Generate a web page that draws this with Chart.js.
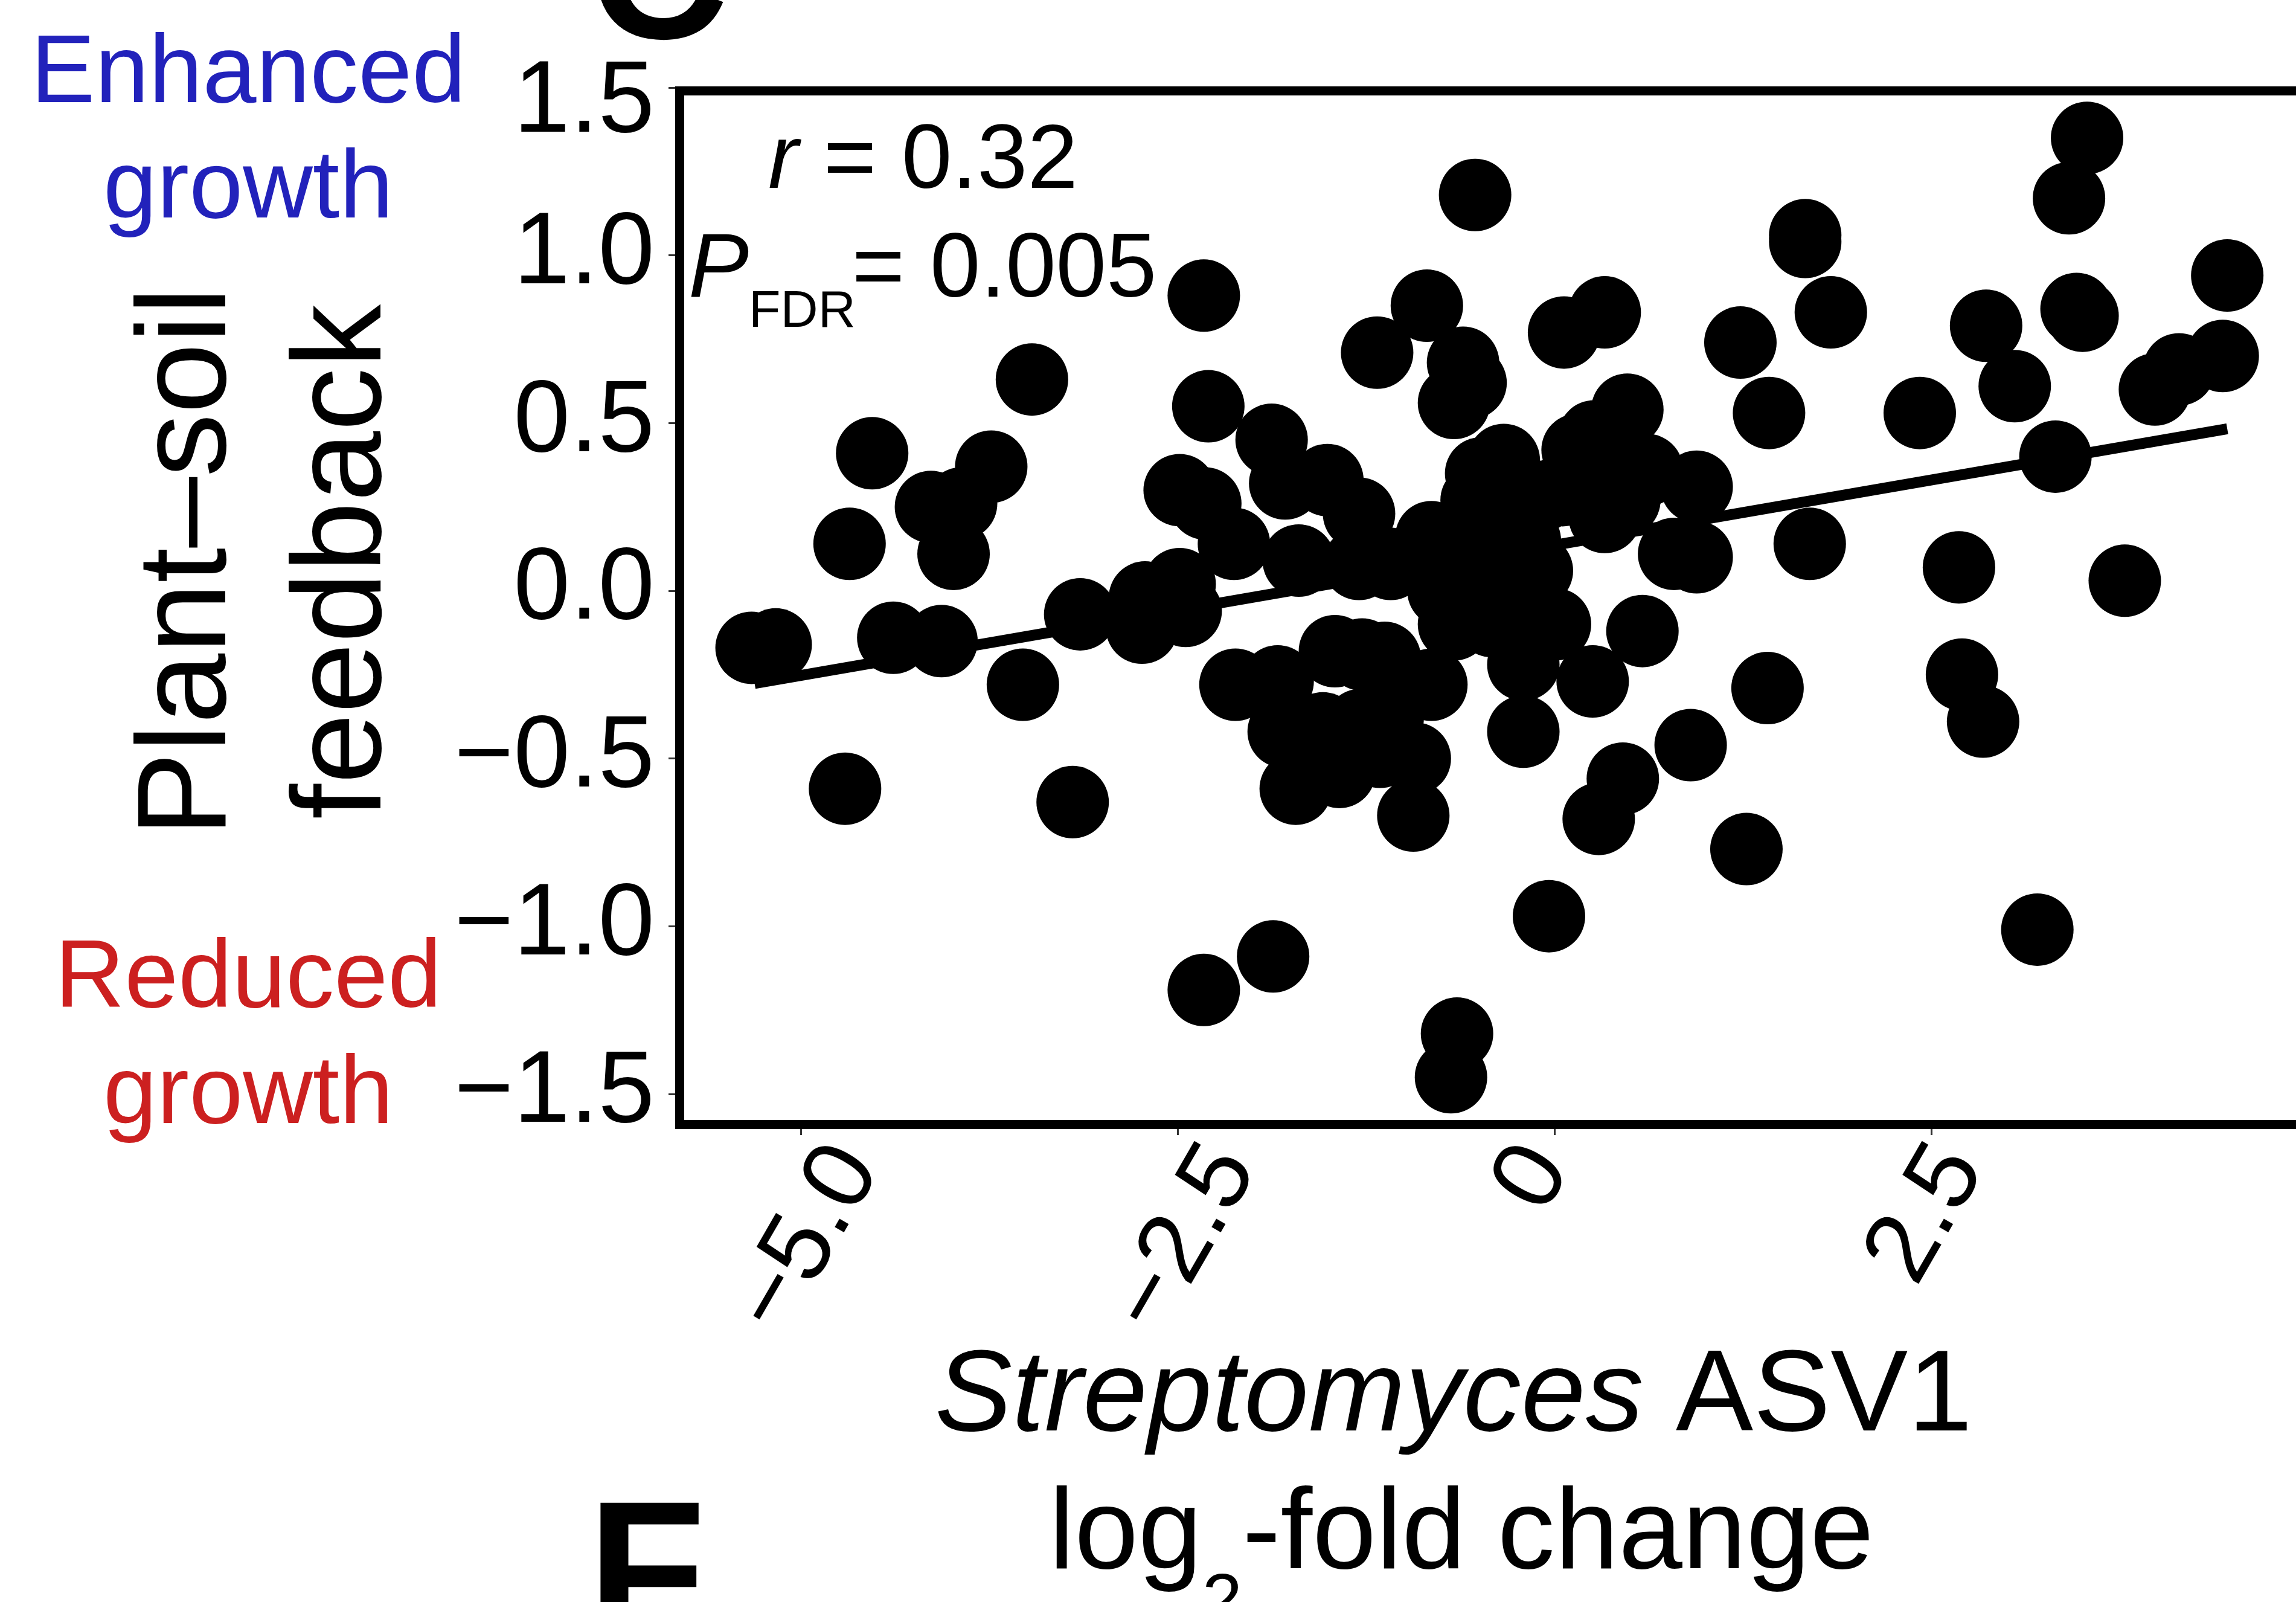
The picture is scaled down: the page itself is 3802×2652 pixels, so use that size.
<!DOCTYPE html>
<html>
<head>
<meta charset="utf-8">
<title>Plant–soil feedback and Streptomyces ASV1</title>
<script src="https://cdn.jsdelivr.net/npm/chart.js@4.4.1/dist/chart.umd.min.js"></script>
<style>
html,body{margin:0;padding:0;background:#fff;overflow:hidden;}
#wrap{width:3802px;height:2652px;}
</style>
</head>
<body>
<div id="wrap"><canvas id="psf" width="3802" height="2652"></canvas></div>
<script>
// one value per soil: Streptomyces ASV1 log2-fold change and plant-soil feedback
const lfc=[-5.33,-5.17,-4.68,-4.53,-4.71,-4.39,-4.07,-4.14,-3.94,-3.99,
  -3.74,-3.47,-3.53,-3.20,-3.15,-2.72,-2.49,-2.74,-2.45,-2.33,
  -2.30,-2.49,-2.32,-2.33,-2.12,-2.13,-1.88,-1.79,-1.51,-1.70,
  -1.30,-1.30,-1.09,-0.82,-0.49,-0.34,-0.52,-1.87,-1.46,-1.28,
  -1.13,-1.84,-0.82,-0.21,-0.21,0.25,0.58,0.90,1.41,0.45,
  0.29,1.27,-0.04,-0.65,-0.69,-1.72,-1.43,-1.16,-0.94,-0.93,
  -1.80,-1.54,-1.29,-1.11,-0.67,-0.42,-0.15,-0.12,-0.53,-0.85,
  -1.18,-0.61,-0.56,-0.67,0.06,0.33,1.23,1.42,0.15,0.26,
  0.48,0.61,0.94,0.33,0.46,0.79,0.94,3.53,3.41,1.66,
  1.66,1.83,2.86,3.05,3.46,3.50,4.46,3.98,4.14,4.43,
  2.42,3.32,1.69,2.68,3.78,2.70,2.84,3.20,-0.74,-0.60,
  -0.45,-0.30,-0.20,-0.55,-0.40,-0.25,-0.10,-0.40,0.00,0.05,
  0.20];
const psf=[-0.17,-0.16,0.14,0.41,-0.59,-0.14,-0.15,0.25,0.26,0.11,
  0.37,0.63,-0.28,-0.63,-0.07,-0.02,0.02,-0.11,-0.06,0.88,
  0.55,0.30,0.26,-1.19,-0.28,0.14,0.45,0.32,0.33,0.09,
  0.23,0.08,0.08,0.16,0.35,0.39,0.27,-1.09,-0.18,-0.19,
  -0.20,-0.27,-0.28,-0.22,-0.42,-0.27,-0.12,-0.46,-0.29,-0.56,
  -0.68,-0.77,-0.97,-1.32,-1.45,-0.59,-0.54,-0.48,-0.67,-0.50,
  -0.42,-0.41,-0.40,-0.38,-0.10,-0.09,-0.05,0.06,1.18,0.85,
  0.71,0.68,0.62,0.56,0.77,0.83,0.74,0.53,0.42,0.46,
  0.54,0.36,0.31,0.22,0.27,0.11,0.10,1.35,1.17,1.06,
  1.04,0.83,0.79,0.61,0.84,0.82,0.94,0.60,0.66,0.70,
  0.53,0.40,0.14,0.07,0.03,-0.25,-0.39,-1.01,0.00,0.12,
  0.20,0.25,0.15,-0.05,-0.02,0.00,0.28,0.08,-0.10,0.30,
  0.33];
// ends of the linear fit
const fitX=[-5.31,4.46];
const fitY=[-0.276,0.483];
const xTicks=[-5,-2.5,0,2.5];
const xTickLabels=['−5.0','−2.5','0','2.5'];
const yTicks=[-1.5,-1,-0.5,0,0.5,1,1.5];
const yTickLabels=['−1.5','−1.0','−0.5','0.0','0.5','1.0','1.5'];

const FONT="'Liberation Sans', Arial, Helvetica, sans-serif";
Chart.defaults.font.family=FONT;
Chart.defaults.color='#000';

const points=lfc.map((x,i)=>({x:x,y:psf[i]}));
const fitLine=fitX.map((x,i)=>({x:x,y:fitY[i]}));

function fixedTicks(values){
  return function(scale){ scale.ticks=values.map(v=>({value:v})); };
}

const tickGrid={display:true,drawOnChartArea:false,drawTicks:true,tickLength:18,
  tickWidth:3,tickColor:'#333',color:'#333',lineWidth:3};

// the 1.5 tick sits just above the frame; its label is dropped a little
// by giving it an empty first line with a short line height
const topTick=yTicks[yTicks.length-1];
function yTickFont(c){
  const top=c.tick&&c.tick.value===topTick;
  return {size:168,lineHeight:top?0.32:1.2};
}
function yTickLabel(v,i){
  return v===topTick?['',yTickLabels[i]]:yTickLabels[i];
}

// draws a row of text pieces (own font and vertical shift each), centred on cx
function textRun(ctx,parts,cx,y){
  let total=0;
  parts.forEach(p=>{ctx.font=p.font;p.w=ctx.measureText(p.t).width;total+=p.w;});
  let x=cx-total/2;
  ctx.textAlign='left';
  parts.forEach(p=>{ctx.font=p.font;ctx.fillText(p.t,x,y+(p.dy||0));x+=p.w;});
}

const panelText={
  id:'panelText',
  afterDraw(chart){
    const ctx=chart.ctx;
    const xs=chart.scales.x;
    ctx.save();
    ctx.fillStyle='#000';

    // x tick labels turned 60 degrees, longer labels pushed right
    ctx.font='165px '+FONT;
    ctx.textAlign='right';
    ctx.textBaseline='middle';
    xTicks.forEach((v,i)=>{
      const label=xTickLabels[i];
      const w=ctx.measureText(label).width;
      ctx.save();
      ctx.translate(xs.getPixelForValue(v)-54+0.45*w,xs.top+50);
      ctx.rotate(-Math.PI/3);
      ctx.fillText(label,0,0);
      ctx.restore();
    });

    ctx.textBaseline='alphabetic';

    // y axis title, two lines
    ctx.font='210px '+FONT;
    ctx.textAlign='center';
    ctx.save();
    ctx.translate(373,930);
    ctx.rotate(-Math.PI/2);
    ctx.fillText('Plant–soil',0,0);
    ctx.fillText('feedback',0,257);
    ctx.restore();

    // direction hints beside the y axis
    ctx.font='160px '+FONT;
    ctx.fillStyle='#2222bb';
    ctx.fillText('Enhanced',411,169);
    ctx.fillText('growth',411,360);
    ctx.fillStyle='#cc2020';
    ctx.fillText('Reduced',411,1667);
    ctx.fillText('growth',411,1859);
    ctx.fillStyle='#000';

    // x axis title
    textRun(ctx,[{t:'Streptomyces',font:'italic 192px '+FONT},{t:' ASV1',font:'192px '+FONT}],2407,2368);
    textRun(ctx,[{t:'log',font:'190px '+FONT},{t:'2',font:'120px '+FONT,dy:93},
      {t:'-fold change',font:'190px '+FONT}],2420,2596);

    // correlation note
    ctx.textAlign='left';
    let x=1272;
    ctx.font='italic 150px '+FONT;
    ctx.fillText('r',x,311);
    x+=ctx.measureText('r').width;
    ctx.font='150px '+FONT;
    ctx.fillText(' = 0.32',x,311);
    x=1140;
    ctx.font='italic 150px '+FONT;
    ctx.fillText('P',x,491);
    x+=ctx.measureText('P').width;
    ctx.font='86px '+FONT;
    ctx.fillText('FDR',x,541);
    x+=ctx.measureText('FDR').width;
    ctx.font='150px '+FONT;
    ctx.fillText('= 0.005',x-6,491);

    // panel letters
    ctx.font='bold 320px '+FONT;
    ctx.fillText('C',975,63);
    ctx.fillText('F',973,2708);
    ctx.restore();
  }
};

new Chart(document.getElementById('psf'),{
  type:'scatter',
  data:{
    datasets:[
      {data:fitLine,type:'line',showLine:true,borderColor:'#000',borderWidth:18,
        borderCapStyle:'butt',pointRadius:0,fill:false},
      {data:points,pointStyle:'circle',pointRadius:60,pointBackgroundColor:'#000',
        pointBorderWidth:0,pointBorderColor:'#000'}
    ]
  },
  options:{
    responsive:false,
    devicePixelRatio:1,
    animation:false,
    events:[],
    layout:{autoPadding:false,padding:{top:150,left:0,right:0,bottom:0}},
    plugins:{legend:{display:false},tooltip:{enabled:false}},
    scales:{
      x:{type:'linear',position:'bottom',min:-5.809,max:4.916,
        afterBuildTicks:fixedTicks(xTicks),
        afterFit:s=>{s.height=791;},
        grid:tickGrid,
        border:{display:true,color:'#000',width:15},
        ticks:{display:false}},
      xTop:{type:'linear',position:'top',min:-5.809,max:4.916,
        afterFit:s=>{s.height=0;},
        grid:{display:false},
        border:{display:true,color:'#000',width:15},
        ticks:{display:false}},
      y:{type:'linear',position:'left',min:-1.59,max:1.491,
        afterBuildTicks:fixedTicks(yTicks),
        afterFit:s=>{s.width=1125;},
        grid:tickGrid,
        border:{display:true,color:'#000',width:15},
        ticks:{font:yTickFont,color:'#000',padding:23,callback:yTickLabel}}
    }
  },
  plugins:[panelText]
});
</script>
</body>
</html>
